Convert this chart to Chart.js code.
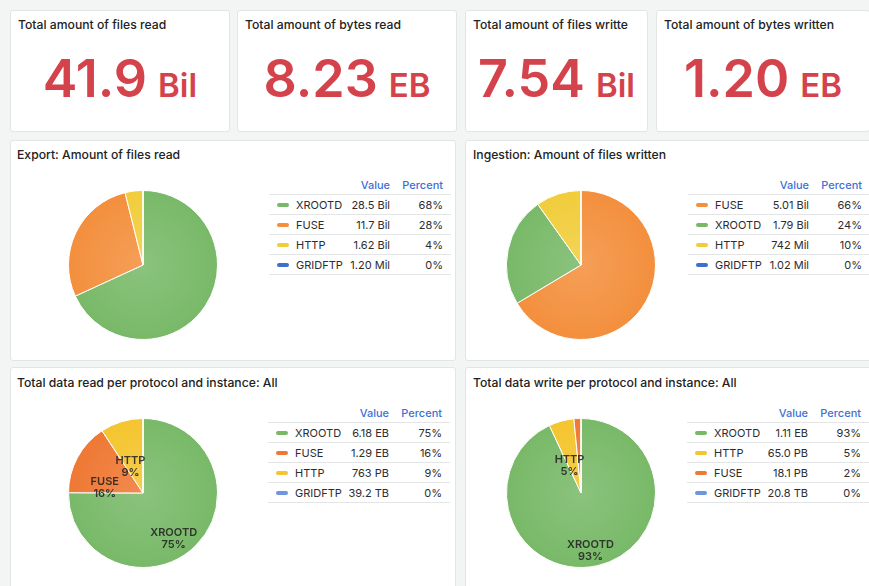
<!DOCTYPE html>
<html>
<head>
<meta charset="utf-8">
<script src="https://cdn.jsdelivr.net/npm/chart.js@4"></script>
<style>
  html, body { margin: 0; padding: 0; }
  body {
    width: 869px; height: 586px; overflow: hidden; position: relative;
    background: #f3f4f4; font-family: 'Inter', 'Noto Sans', sans-serif; color: #242526;
  }
  .panel {
    position: absolute; background: #fff; border: 1px solid #e3e4e6;
    border-radius: 3px; box-sizing: border-box;
  }
  .ptitle {
    position: absolute; font-size: 12.2px; font-weight: 500; white-space: nowrap;
    overflow: hidden; line-height: 16px; color: #222;
  }
  .stat {
    position: absolute; left: 0; right: 0; text-align: center; white-space: nowrap;
    color: #d4424b; font-weight: 600; line-height: 50px;
  }
  .stat .num { font-size: 52px; }
  .stat .unit { font-size: 33px; margin-left: 11px; }
  canvas.pie { position: absolute; }
  table.legend {
    position: absolute; border-collapse: collapse; table-layout: fixed; width: 182px;
    font-size: 11px; color: #2c2d2f;
  }
  table.legend th {
    height: 19px; padding: 0; text-align: right; color: #3d6fd6; font-weight: 500;
    border-bottom: 1px solid #e4e5e7;
  }
  table.legend td {
    height: 19px; padding: 0; text-align: right; border-bottom: 1px solid #e4e5e7;
    white-space: nowrap;
  }
  table.legend td.name { text-align: left; padding-left: 8px; }
  table.legend .last { padding-right: 8px; }
  .sw {
    display: inline-block; width: 12px; height: 4px; border-radius: 2px;
    vertical-align: middle; margin-right: 7px; position: relative; top: -1px;
  }
</style>
</head>
<body>
<script>
'use strict';

/* ── Stat panels ── */
const STAT_TITLES = ['Total amount of files read', 'Total amount of bytes read',
                     'Total amount of files written', 'Total amount of bytes written'];
const STAT_NUMBERS = ['41.9', '8.23', '7.54', '1.20'];
const STAT_UNITS = ['Bil', 'EB', 'Bil', 'EB'];

/* ── Export: Amount of files read ── */
const READ_FILES_LABELS = ['XROOTD', 'FUSE', 'HTTP', 'GRIDFTP'];
const READ_FILES_VALUES = [28.5e9, 11.7e9, 1.62e9, 1.20e6];
const READ_FILES_TEXT = ['28.5 Bil', '11.7 Bil', '1.62 Bil', '1.20 Mil'];

/* ── Ingestion: Amount of files written ── */
const WRITE_FILES_LABELS = ['FUSE', 'XROOTD', 'HTTP', 'GRIDFTP'];
const WRITE_FILES_VALUES = [5.01e9, 1.79e9, 742e6, 1.02e6];
const WRITE_FILES_TEXT = ['5.01 Bil', '1.79 Bil', '742 Mil', '1.02 Mil'];

/* ── Total data read (PB) ── */
const READ_DATA_LABELS = ['XROOTD', 'FUSE', 'HTTP', 'GRIDFTP'];
const READ_DATA_VALUES = [6180, 1290, 763, 0.0392];
const READ_DATA_TEXT = ['6.18 EB', '1.29 EB', '763 PB', '39.2 TB'];

/* ── Total data write (PB) ── */
const WRITE_DATA_LABELS = ['XROOTD', 'HTTP', 'FUSE', 'GRIDFTP'];
const WRITE_DATA_VALUES = [1110, 65.0, 18.1, 0.0208];
const WRITE_DATA_TEXT = ['1.11 EB', '65.0 PB', '18.1 PB', '20.8 TB'];

/* colours per protocol (two palettes, as in the dashboard) */
const PALETTE_A = { XROOTD: '#78b968', FUSE: '#f38f3d', HTTP: '#f1cd3b', GRIDFTP: '#3d6fcc' };
const PALETTE_B = { XROOTD: '#78b968', FUSE: '#ef7834', HTTP: '#f4c52f', GRIDFTP: '#6d96de' };

/* ═══════════ helpers ═══════════ */

function el(tag, cls, style, html, parent) {
  const e = document.createElement(tag);
  if (cls) e.className = cls;
  if (style) Object.assign(e.style, style);
  if (html !== undefined) e.innerHTML = html;
  (parent || document.body).appendChild(e);
  return e;
}

function px(v) { return v + 'px'; }

function panel(x, y, w, h, title, tx, ty, titleWidth) {
  const p = el('div', 'panel', { left: px(x), top: px(y), width: px(w), height: px(h) });
  el('div', 'ptitle', { left: px(tx), top: px(ty - 8), maxWidth: px(titleWidth || (x + w - tx - 4)) }, title);
  return p;
}

function lighten(hex, amt) {
  const n = parseInt(hex.slice(1), 16);
  const mix = c => Math.round(c + (255 - c) * amt);
  return `rgb(${mix(n >> 16)},${mix((n >> 8) & 255)},${mix(n & 255)})`;
}

function percents(values) {
  const total = values.reduce((a, b) => a + b, 0);
  return values.map(v => Math.round(v / total * 100));
}

/* labels inside slices (name / percent) */
const sliceLabelPlugin = {
  id: 'sliceLabels',
  afterDatasetsDraw(chart, args, opts) {
    if (!opts.show) return;
    const meta = chart.getDatasetMeta(0);
    const pct = percents(chart.data.datasets[0].data);
    const { ctx } = chart;
    ctx.save();
    ctx.font = "600 11px 'Inter', sans-serif";
    ctx.fillStyle = 'rgba(35,35,35,0.88)';
    ctx.textAlign = 'center';
    ctx.textBaseline = 'middle';
    meta.data.forEach((arc, i) => {
      const p = arc.getProps(['startAngle', 'endAngle', 'outerRadius', 'x', 'y'], true);
      if (p.endAngle - p.startAngle < 0.3) return;
      const mid = (p.startAngle + p.endAngle) / 2;
      const r = (p.outerRadius + p.outerRadius / 6) / 2;
      const lx = p.x + Math.cos(mid) * r;
      const ly = p.y + Math.sin(mid) * r;
      ctx.fillText(chart.data.labels[i], lx, ly + 9);
      ctx.fillText(pct[i] + '%', lx, ly + 21);
    });
    ctx.restore();
  },
};

function pie(cx, cy, labels, values, palette, showLabels) {
  const canvas = el('canvas', 'pie', { left: px(cx - 80), top: px(cy - 80) });
  canvas.width = 160;
  canvas.height = 160;
  const colors = labels.map(l => palette[l]);
  new Chart(canvas.getContext('2d'), {
    type: 'pie',
    data: {
      labels,
      datasets: [{
        data: values,
        borderColor: '#fff',
        borderWidth: 1,
        backgroundColor(ctx) {
          const base = colors[ctx.dataIndex];
          const area = ctx.chart.chartArea;
          if (!area) return base;
          const x = (area.left + area.right) / 2;
          const y = (area.top + area.bottom) / 2;
          const g = ctx.chart.ctx.createRadialGradient(x, y, 0, x, y, 75);
          g.addColorStop(0, lighten(base, 0.14));
          g.addColorStop(1, base);
          return g;
        },
      }],
    },
    options: {
      responsive: false,
      animation: false,
      events: [],
      layout: { padding: 5 },
      plugins: {
        legend: { display: false },
        tooltip: { enabled: false },
        sliceLabels: { show: showLabels },
      },
    },
    plugins: [sliceLabelPlugin],
  });
}

function legendTable(x, y, labels, texts, values, palette) {
  const pct = percents(values);
  let html = '<colgroup><col style="width:76px"><col style="width:45px"><col style="width:61px"></colgroup>';
  html += '<tr><th></th><th>Value</th><th class="last">Percent</th></tr>';
  labels.forEach((l, i) => {
    html += `<tr><td class="name"><span class="sw" style="background:${palette[l]}"></span>${l}</td>` +
            `<td>${texts[i]}</td><td class="last">${pct[i]}%</td></tr>`;
  });
  el('table', 'legend', { left: px(x), top: px(y) }, html);
}

/* ═══════════ layout ═══════════ */

const STAT_BOXES = [[10, 220, 0], [237, 220, 0], [465, 183, 155], [656, 214, 0]];
STAT_BOXES.forEach(([x, w, tw], i) => {
  const p = panel(x, 10, w, 122, STAT_TITLES[i], x + 8, 25, tw);
  el('div', 'stat', { top: '43px' },
     `<span class="num">${STAT_NUMBERS[i]}</span><span class="unit">${STAT_UNITS[i]}</span>`, p);
});

panel(10, 140, 446, 221, 'Export: Amount of files read', 17, 155);
panel(465, 140, 446, 221, 'Ingestion: Amount of files written', 473, 155);
panel(10, 367, 446, 240, 'Total data read per protocol and instance: All', 17, 383);
panel(465, 367, 446, 240, 'Total data write per protocol and instance: All', 473, 383);

pie(143, 265, READ_FILES_LABELS, READ_FILES_VALUES, PALETTE_A, false);
pie(581, 265, WRITE_FILES_LABELS, WRITE_FILES_VALUES, PALETTE_A, false);
pie(143, 493, READ_DATA_LABELS, READ_DATA_VALUES, PALETTE_B, true);
pie(581, 493, WRITE_DATA_LABELS, WRITE_DATA_VALUES, PALETTE_B, true);

legendTable(269, 175, READ_FILES_LABELS, READ_FILES_TEXT, READ_FILES_VALUES, PALETTE_A);
legendTable(688, 175, WRITE_FILES_LABELS, WRITE_FILES_TEXT, WRITE_FILES_VALUES, PALETTE_A);
legendTable(268, 403, READ_DATA_LABELS, READ_DATA_TEXT, READ_DATA_VALUES, PALETTE_B);
legendTable(687, 403, WRITE_DATA_LABELS, WRITE_DATA_TEXT, WRITE_DATA_VALUES, PALETTE_B);
</script>
</body>
</html>
